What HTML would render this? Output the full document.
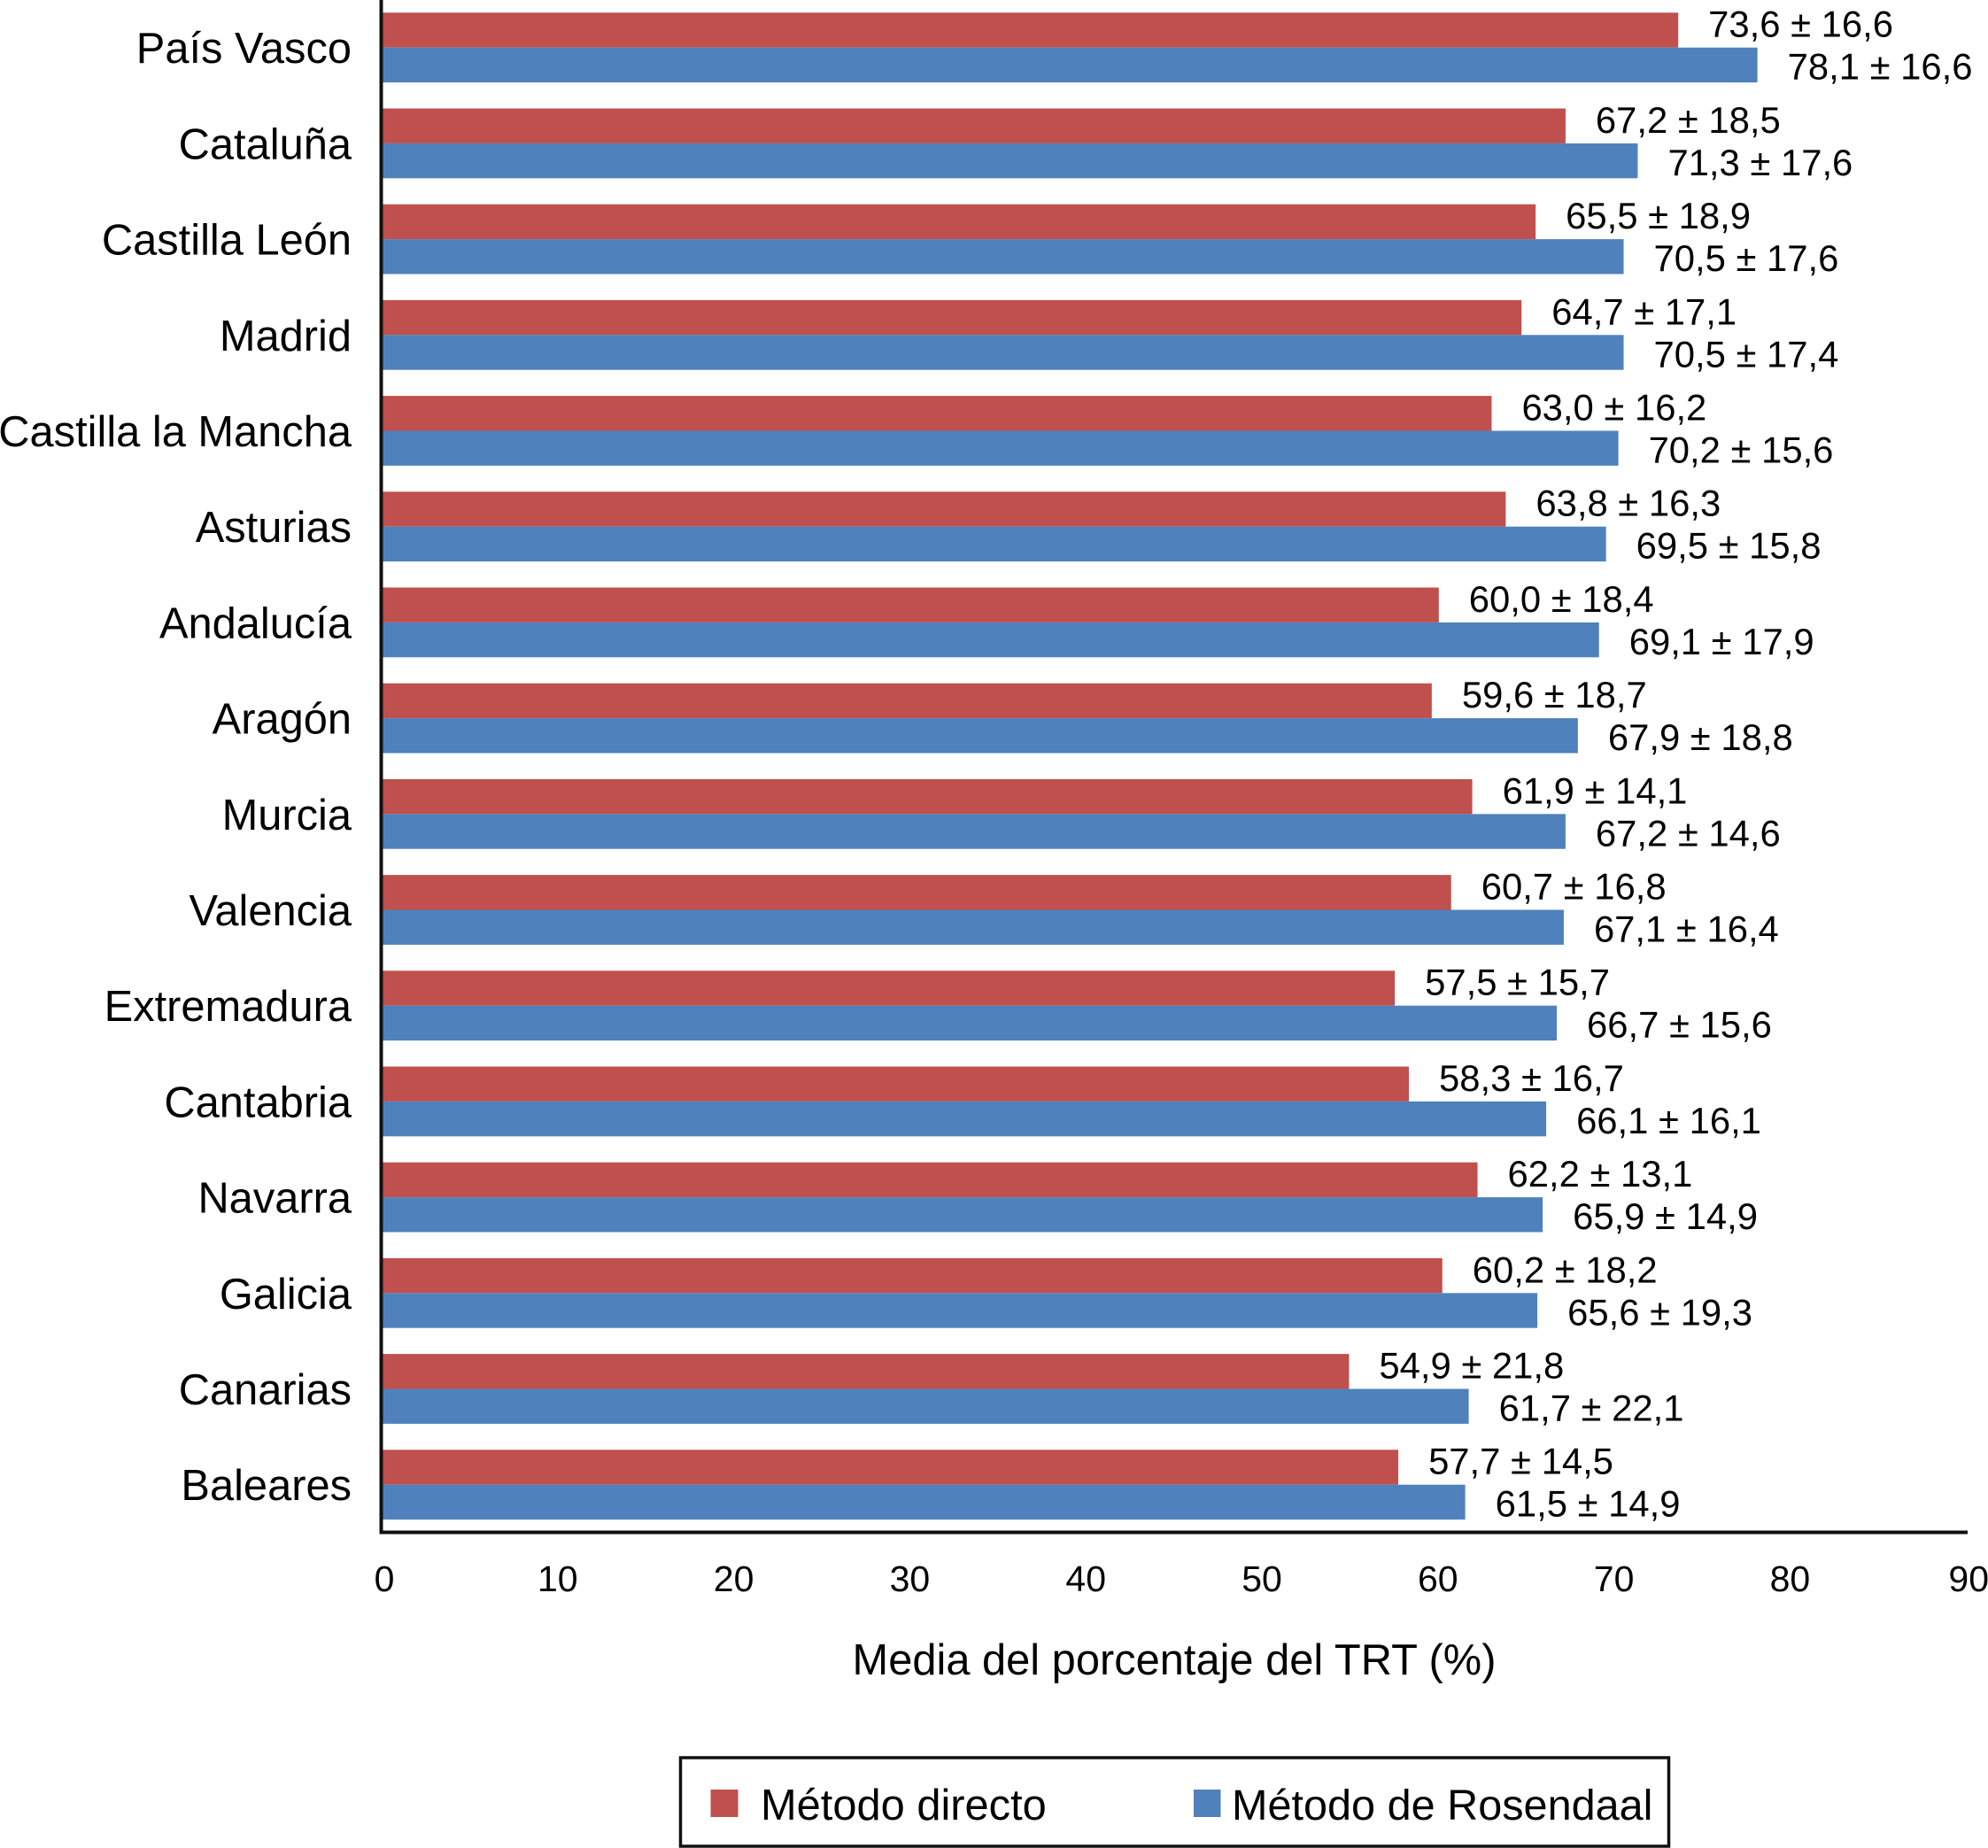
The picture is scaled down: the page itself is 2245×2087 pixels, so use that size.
<!DOCTYPE html>
<html lang="es">
<head>
<meta charset="utf-8">
<title>Media del porcentaje del TRT</title>
<style>
html,body{margin:0;padding:0;background:#fff;}
svg{display:block;}
text{font-family:"Liberation Sans",Arial,sans-serif;fill:#000;}
</style>
</head>
<body>
<svg id="chart" xmlns="http://www.w3.org/2000/svg" width="2245" height="2087" viewBox="0 0 2245 2087">
  <rect x="0" y="0" width="2245" height="2087" fill="#fff"/>
  <g id="bars"></g>
  <g id="cats"></g>
  <g id="vals"></g>
  <line x1="430.5" y1="0" x2="430.5" y2="1732.5" stroke="#111" stroke-width="4"/>
  <line x1="429" y1="1730.5" x2="2222" y2="1730.5" stroke="#111" stroke-width="4"/>
  <g id="ticks"></g>
  <text x="1326" y="1891" font-size="48.8" text-anchor="middle">Media del porcentaje del TRT (%)</text>
  <g>
    <rect x="768.5" y="1985" width="1116" height="100" fill="#fff" stroke="#111" stroke-width="3.5"/>
    <rect x="802.5" y="2021" width="31" height="31" fill="#C0504D"/>
    <text x="859" y="2055" font-size="48.8">Método directo</text>
    <rect x="1348" y="2021" width="30.5" height="31" fill="#4F81BD"/>
    <text x="1391" y="2055" font-size="48.6">Método de Rosendaal</text>
  </g>
</svg>
<script>
const categories = ["País Vasco","Cataluña","Castilla León","Madrid","Castilla la Mancha","Asturias","Andalucía","Aragón","Murcia","Valencia","Extremadura","Cantabria","Navarra","Galicia","Canarias","Baleares"];
const directoMeans = [73.6,67.2,65.5,64.7,63.0,63.8,60.0,59.6,61.9,60.7,57.5,58.3,62.2,60.2,54.9,57.7];
const directoSDs = [16.6,18.5,18.9,17.1,16.2,16.3,18.4,18.7,14.1,16.8,15.7,16.7,13.1,18.2,21.8,14.5];
const rosendaalMeans = [78.1,71.3,70.5,70.5,70.2,69.5,69.1,67.9,67.2,67.1,66.7,66.1,65.9,65.6,61.7,61.5];
const rosendaalSDs = [16.6,17.6,17.6,17.4,15.6,15.8,17.9,18.8,14.6,16.4,15.6,16.1,14.9,19.3,22.1,14.9];
const xTickValues = [0,10,20,30,40,50,60,70,80,90];

const SVGNS = 'http://www.w3.org/2000/svg';
function xScale(v){ return 432 + v * 19.88; }
function bandMid(i){ return 53.7 + i * 108.2; }
const BAR_H = 39.4;
function fmt(v){ return v.toFixed(1).replace('.', ','); }
function make(tag, attrs, parent, txt){
  const el = document.createElementNS(SVGNS, tag);
  for (const k in attrs) el.setAttribute(k, attrs[k]);
  if (txt !== undefined) el.textContent = txt;
  parent.appendChild(el);
  return el;
}
const barsG = document.getElementById('bars');
const catsG = document.getElementById('cats');
const valsG = document.getElementById('vals');
const ticksG = document.getElementById('ticks');

categories.forEach(function(cat, i){
  const mid = bandMid(i);
  const red = make('rect', {x: xScale(0), y: mid - BAR_H, width: xScale(directoMeans[i]) - xScale(0), height: BAR_H, fill: '#C0504D'}, barsG);
  
  
  const blue = make('rect', {x: xScale(0), y: mid, width: xScale(rosendaalMeans[i]) - xScale(0), height: BAR_H, fill: '#4F81BD'}, barsG);
  
  
  const catLabel = make('text', {x: 397, y: mid + 17.5, 'font-size': 48.8, 'text-anchor': 'end'}, catsG, cat);
  
  
  const redLabel = make('text', {x: xScale(directoMeans[i]) + 34, y: mid - 12, 'font-size': 41.8}, valsG, fmt(directoMeans[i]) + ' ± ' + fmt(directoSDs[i]));
  
  
  const blueLabel = make('text', {x: xScale(rosendaalMeans[i]) + 34, y: mid + 36, 'font-size': 41.8}, valsG, fmt(rosendaalMeans[i]) + ' ± ' + fmt(rosendaalSDs[i]));
  
  
});

xTickValues.forEach(function(t){
  const nudge = (t === 0 || t === 90) ? 2 : -1;
  const tick = make('text', {x: xScale(t) + nudge, y: 1797, 'font-size': 41, 'text-anchor': 'middle'}, ticksG, String(t));
  
  
});
</script>
</body>
</html>
